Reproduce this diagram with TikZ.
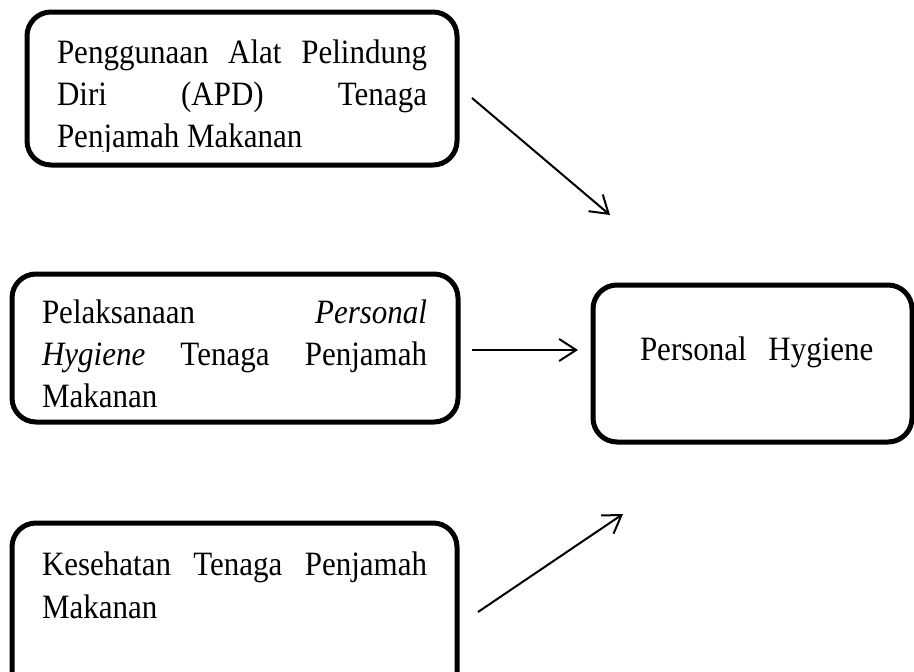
\documentclass[tikz,border=0pt]{standalone}
\usepackage{fontspec}
\usepackage{graphicx}
\setmainfont{Liberation Serif}
\usetikzlibrary{arrows.meta}
\newcommand{\tallt}[1]{\scalebox{1}[1.1]{#1}}
\begin{document}
\begin{tikzpicture}[x=1pt,y=-1pt,
  box/.style={draw=black,line width=5pt,rounded corners=24pt,inner sep=0pt,outer sep=0pt},
  txt/.style={anchor=base west,inner sep=0pt,outer sep=0pt,font=\fontsize{31pt}{42pt}\selectfont},
  conn/.style={line width=2pt,-{Straight Barb[length=17pt,width=22pt,line width=2pt]}}]
\useasboundingbox (0,0) rectangle (914,672);
% boxes
\node[box,minimum width=430pt,minimum height=153pt] (b1) at (242,88.5) {};
\node[box,minimum width=446pt,minimum height=148pt] (b2) at (235,348) {};
\node[box,minimum width=445pt,minimum height=177pt] (b3) at (234.5,611.5) {};
\node[box,minimum width=319pt,minimum height=157pt] (b4) at (752.5,363.5) {};
% box 1 text
\node[txt] (t11) at (57,63) {\tallt{\hbox to 370pt{Penggunaan\hfill Alat\hfill Pelindung}}};
\node[txt] (t12) at (57,105) {\tallt{\hbox to 370pt{Diri\hfill(APD)\hfill Tenaga}}};
\begin{scope}
\clip (0,0) rectangle (914,151);
\node[txt] (t13) at (57,147) {\tallt{Penjamah Makanan}};
\end{scope}
% box 2 text
\node[txt] (t21) at (42,323) {\tallt{\hbox to 385pt{Pelaksanaan\hfill\textit{Personal}}}};
\node[txt] (t22) at (42,365) {\tallt{\hbox to 385pt{\textit{Hygiene}\hfill Tenaga\hfill Penjamah}}};
\node[txt] (t23) at (42,407) {\tallt{Makanan}};
% box 3 text
\node[txt] (t31) at (42,575) {\tallt{\hbox to 385pt{Kesehatan\hfill Tenaga\hfill Penjamah}}};
\node[txt] (t32) at (42,618) {\tallt{Makanan}};
% box 4 text
\node[txt] (t41) at (640,360) {\tallt{Personal\hspace{0.7em}Hygiene}};
% connectors
\coordinate (a1s) at (472,98);
\coordinate (a1e) at (610,215);
\coordinate (a2s) at (472,350);
\coordinate (a2e) at (578,350);
\coordinate (a3s) at (478,612);
\coordinate (a3e) at (623,514);
\draw[conn] (a1s) -- (a1e);
\draw[conn] (a2s) -- (a2e);
\draw[conn] (a3s) -- (a3e);
\end{tikzpicture}
\end{document}
